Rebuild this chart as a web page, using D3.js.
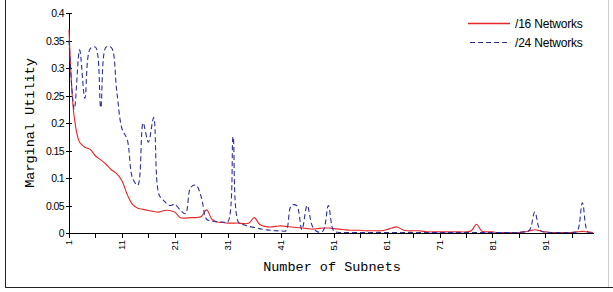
<!DOCTYPE html>
<html><head><meta charset="utf-8">
<script src="https://cdn.jsdelivr.net/npm/d3@7"></script>
<style>body{margin:0;background:#fff}svg{display:block}</style>
</head><body>
<script>
const categories = d3.range(1, 101);
const net16 = [0.37,0.21,0.165,0.156,0.152,0.14,0.133,0.125,0.115,0.108,
0.095,0.07,0.052,0.045,0.043,0.041,0.039,0.038,0.041,0.041,
0.038,0.028,0.027,0.028,0.028,0.03,0.042,0.025,0.02,0.019,
0.018,0.018,0.018,0.017,0.018,0.028,0.016,0.012,0.011,0.012,
0.013,0.012,0.011,0.01,0.009,0.008,0.007,0.008,0.009,0.009,
0.008,0.007,0.006,0.005,0.005,0.005,0.004,0.004,0.004,0.004,
0.006,0.009,0.011,0.006,0.004,0.004,0.004,0.003,0.002,0.002,
0.002,0.002,0.002,0.002,0.002,0.002,0.004,0.016,0.003,0.002,
0.002,0.001,0.001,0.001,0.001,0.001,0.002,0.004,0.006,0.004,
0.002,0.001,0.001,0.001,0.001,0.001,0.002,0.003,0.002,0.001];
const net24 = [0.35,0.225,0.333,0.245,0.335,0.338,0.228,0.338,0.337,0.26,
0.19,0.17,0.1,0.087,0.2,0.165,0.21,0.07,0.058,0.05,
0.052,0.042,0.035,0.083,0.087,0.065,0.025,0.022,0.02,0.02,
0.02,0.175,0.02,0.015,0.012,0.01,0.008,0.006,0.005,0.004,
0.004,0.004,0.05,0.05,0.006,0.05,0.012,0.002,0.004,0.05,
0.004,0.001,0.001,0.001,0.001,0.001,0.001,0.001,0.001,0.001,
0.001,0.001,0.001,0.001,0.001,0.001,0.001,0.001,0.001,0.001,
0.001,0.001,0.001,0.001,0.001,0.001,0.001,0.001,0.001,0.001,
0.001,0.001,0.001,0.001,0.001,0.001,0.002,0.005,0.038,0.005,
0.001,0.001,0.001,0.001,0.001,0.001,0.003,0.055,0.002,0];
const yTicks = [0,0.05,0.1,0.15,0.2,0.25,0.3,0.35,0.4];
const yTickLabels = ["0","0.05","0.1","0.15","0.2","0.25","0.3","0.35","0.4"];
const xMinorTicks = d3.range(1, 101, 5);
const xLabelTicks = [1,11,21,31,41,51,61,71,81,91];
const seriesNames = ["/16 Networks", "/24 Networks"];

const W = 613, H = 292;
const svg = d3.select("body").append("svg").attr("width", W).attr("height", H);

// frame
svg.append("line").attr("x1",5.5).attr("x2",5.5).attr("y1",0).attr("y2",287.5).attr("stroke","#222");
svg.append("line").attr("x1",5).attr("x2",613).attr("y1",287.5).attr("y2",287.5).attr("stroke","#222");
svg.append("line").attr("x1",608.5).attr("x2",608.5).attr("y1",0).attr("y2",287).attr("stroke","#ccc");

const x = d3.scaleLinear().domain([1,100]).range([69,593]);
const y = d3.scaleLinear().domain([0,0.4]).range([233,13]);

// y axis
const g = svg.append("g");
g.append("line").attr("x1",69.5).attr("x2",69.5).attr("y1",y(0.4)).attr("y2",y(0)).attr("stroke","#000");
yTicks.forEach((t,i)=>{
  const yy = Math.round(y(t))+0.5;
  g.append("line").attr("x1",66).attr("x2",72).attr("y1",yy).attr("y2",yy).attr("stroke","#000");
  g.append("text").attr("x",64).attr("y",yy).attr("dy","0.35em").attr("text-anchor","end")
    .attr("font-family","Liberation Sans, Arial, sans-serif").attr("font-size",10.5)
    .attr("letter-spacing","-0.6").text(yTickLabels[i]);
});
// x axis
g.append("line").attr("x1",69).attr("x2",594).attr("y1",233.5).attr("y2",233.5).attr("stroke","#000");
xMinorTicks.forEach(t=>{
  const xx = Math.round(x(t))+0.5;
  g.append("line").attr("x1",xx).attr("x2",xx).attr("y1",233).attr("y2",238).attr("stroke","#000");
});
xLabelTicks.forEach(t=>{
  g.append("text").attr("transform",`translate(${x(t)},240) rotate(-90)`)
    .attr("dy","0.35em").attr("text-anchor","end")
    .attr("font-family","Liberation Sans, Arial, sans-serif").attr("font-size",9.5).text(String(t));
});

// axis titles
svg.append("text").attr("x",332).attr("y",271).attr("text-anchor","middle")
  .attr("font-family","Liberation Mono, Courier New, monospace").attr("font-size",13.5)
  .text("Number of Subnets");
svg.append("text").attr("transform","translate(34,123) rotate(-90)").attr("text-anchor","middle")
  .attr("font-family","Liberation Mono, Courier New, monospace").attr("font-size",13.5)
  .text("Marginal Utility");

const line = d3.line().x((d,i)=>x(categories[i])).y(d=>y(d)).curve(d3.curveCatmullRom.alpha(0.5));
const red = "#e8262a", blue = "#2b2f9c";
svg.append("path").datum(net16).attr("d",line).attr("fill","none").attr("stroke",red).attr("stroke-width",1.1);
svg.append("path").datum(net24).attr("d",line).attr("fill","none").attr("stroke",blue).attr("stroke-width",1.1)
  .attr("stroke-dasharray","5,3");

// legend
const lg = svg.append("g");
lg.append("line").attr("x1",468).attr("x2",510).attr("y1",23.5).attr("y2",23.5).attr("stroke",red).attr("stroke-width",1.3);
lg.append("line").attr("x1",470).attr("x2",510).attr("y1",42.5).attr("y2",42.5).attr("stroke",blue).attr("stroke-width",1.1).attr("stroke-dasharray","5,3");
[23.5,42.5].forEach((yy,i)=>{
  lg.append("text").attr("x",515).attr("y",yy).attr("dy","0.35em")
    .attr("font-family","Liberation Sans, Arial, sans-serif").attr("font-size",12)
    .attr("letter-spacing","-0.2").text(seriesNames[i]);
});
</script>
</body></html>
